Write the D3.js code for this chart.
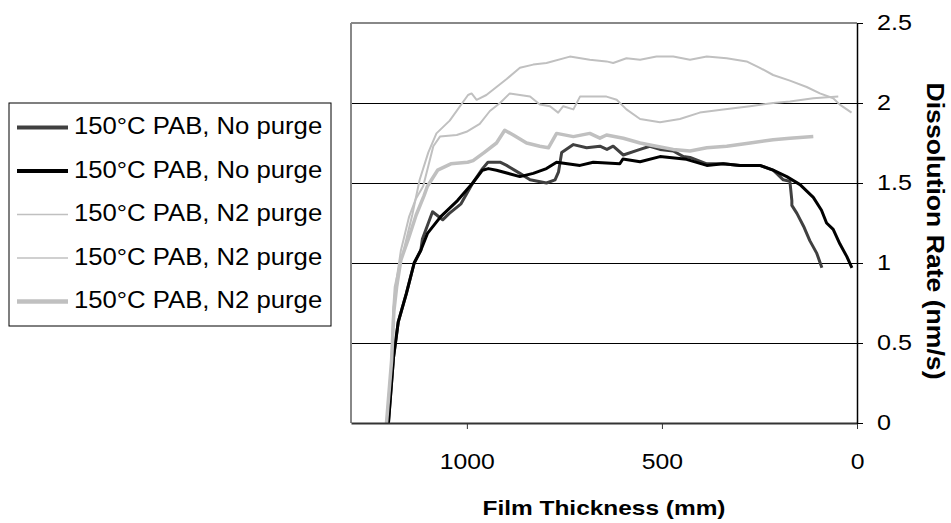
<!DOCTYPE html>
<html><head><meta charset="utf-8">
<script src="https://cdn.jsdelivr.net/npm/d3@7"></script>
<style>body{margin:0;background:#fff}svg{display:block}</style>
</head><body>
<svg id="chart" width="951" height="523"></svg>
<script>
// ---- data ----
const seriesNames = ["150°C PAB, No purge","150°C PAB, No purge","150°C PAB, N2 purge","150°C PAB, N2 purge","150°C PAB, N2 purge"];
// [film thickness, dissolution rate]
const noPurgeA = [[1201,0],[1188,0.41],[1176,0.63],[1155,0.81],[1135,1.0],[1118,1.08],[1114,1.15],[1088,1.32],[1062,1.27],[1045,1.31],[1015,1.37],[985,1.50],[960,1.59],[946,1.63],[915,1.63],[898,1.61],[864,1.56],[838,1.52],[796,1.50],[774,1.52],[765,1.57],[757,1.69],[727,1.74],[693,1.72],[659,1.73],[641,1.71],[625,1.73],[599,1.675],[556,1.71],[531,1.73],[505,1.71],[471,1.70],[445,1.665],[428,1.66],[385,1.62],[343,1.62],[300,1.61],[249,1.61],[215,1.58],[206,1.56],[189,1.52],[172,1.51],[167,1.39],[167,1.36],[154,1.31],[137,1.23],[121,1.14],[103,1.06],[90,0.97]];
const noPurgeB = [[1201,0],[1188,0.41],[1176,0.63],[1155,0.81],[1135,1.0],[1118,1.08],[1101,1.185],[1067,1.29],[1024,1.39],[985,1.50],[960,1.58],[945,1.59],[924,1.58],[864,1.54],[830,1.56],[796,1.59],[770,1.63],[710,1.61],[676,1.63],[608,1.62],[600,1.65],[556,1.633],[505,1.665],[437,1.648],[385,1.61],[343,1.62],[300,1.61],[249,1.61],[215,1.58],[180,1.54],[146,1.49],[112,1.41],[91,1.33],[78,1.25],[61,1.21],[44,1.12],[26,1.04],[13,0.97]];
const n2PurgeA = [[1206,0],[1193,0.39],[1189,0.71],[1185,0.85],[1176,0.95],[1160,1.1],[1140,1.3],[1121,1.52],[1099,1.69],[1078,1.81],[1044,1.89],[997,2.05],[988,2.06],[975,2.02],[950,2.05],[924,2.10],[898,2.15],[864,2.22],[830,2.24],[796,2.25],[736,2.29],[685,2.27],[642,2.26],[625,2.25],[591,2.28],[556,2.27],[514,2.29],[471,2.29],[428,2.27],[385,2.29],[334,2.28],[283,2.26],[249,2.22],[215,2.175],[172,2.14],[129,2.10],[95,2.06],[61,2.03],[44,1.99],[14,1.94]];
const n2PurgeB = [[1206,0],[1193,0.39],[1188,0.7],[1183,0.85],[1169,1.08],[1161,1.16],[1148,1.29],[1131,1.40],[1112,1.48],[1086,1.73],[1069,1.79],[1026,1.80],[1001,1.82],[967,1.87],[941,1.95],[915,2.00],[890,2.06],[864,2.05],[838,2.04],[813,1.99],[787,1.98],[766,1.94],[753,1.98],[727,1.96],[710,2.04],[676,2.04],[642,2.04],[616,2.02],[591,1.96],[556,1.90],[505,1.88],[454,1.90],[403,1.94],[343,1.96],[274,1.98],[215,2.00],[172,2.01],[112,2.03],[48,2.04]];
const n2PurgeC = [[1206,0],[1193,0.39],[1187,0.7],[1180,0.85],[1169,1.02],[1150,1.15],[1130,1.3],[1110,1.42],[1101,1.48],[1075,1.58],[1041,1.62],[998,1.63],[984,1.64],[956,1.69],[924,1.75],[903,1.83],[881,1.80],[847,1.75],[813,1.73],[791,1.72],[770,1.81],[727,1.79],[685,1.81],[659,1.78],[642,1.80],[599,1.78],[556,1.75],[514,1.73],[471,1.71],[428,1.70],[385,1.72],[334,1.73],[274,1.75],[215,1.77],[172,1.78],[112,1.79]];
const seriesData = [noPurgeA, noPurgeB, n2PurgeA, n2PurgeB, n2PurgeC];
const xTicks = [1000, 500, 0];
const xTickLabels = ["1000", "500", "0"];
const yTicks = [0, 0.5, 1, 1.5, 2, 2.5];
const yTickLabels = ["0", "0.5", "1", "1.5", "2", "2.5"];
const xTitle = "Film Thickness (mm)";
const yTitle = "Dissolution Rate (nm/s)";

// ---- styles / layout ----
const seriesStyles = [
  {color:"#404040", width:3},
  {color:"#000000", width:3},
  {color:"#c0c0c0", width:2},
  {color:"#c0c0c0", width:2},
  {color:"#c0c0c0", width:3.5}
];
const FONT = "'Liberation Sans', Arial, Helvetica, sans-serif";
const plot = {left:351, top:23, right:857, bottom:423};

const svg = d3.select("#chart");
const x = d3.scaleLinear().domain([1297, 0]).range([plot.left, plot.right]);
const y = d3.scaleLinear().domain([0, 2.5]).range([plot.bottom, plot.top]);

function stretch(sel, k) {
  sel.each(function() {
    const w = this.getComputedTextLength();
    this.setAttribute("textLength", w * k);
    this.setAttribute("lengthAdjust", "spacingAndGlyphs");
  });
}

// gridlines
svg.append("g").selectAll("line").data(yTicks.filter(d => d > 0 && d < 2.5)).join("line")
  .attr("x1", plot.left).attr("x2", plot.right)
  .attr("y1", d => y(d)).attr("y2", d => y(d))
  .attr("stroke", "#000").attr("stroke-width", 1).attr("shape-rendering", "crispEdges");

// plot border (top & left gray)
svg.append("line").attr("x1", plot.left).attr("x2", plot.right).attr("y1", plot.top).attr("y2", plot.top)
  .attr("stroke", "#888").attr("stroke-width", 2);
svg.append("line").attr("x1", plot.left).attr("x2", plot.left).attr("y1", plot.top).attr("y2", plot.bottom)
  .attr("stroke", "#888").attr("stroke-width", 2);

// series
const line = d3.line().x(d => x(d[0])).y(d => y(d[1]));
svg.append("g").selectAll("path").data(seriesData).join("path")
  .attr("d", line)
  .attr("fill", "none")
  .attr("stroke", (d, i) => seriesStyles[i].color)
  .attr("stroke-width", (d, i) => seriesStyles[i].width)
  .attr("stroke-linejoin", "round");

// x axis
const xAxis = svg.append("g").attr("transform", `translate(0,${plot.bottom})`)
  .call(d3.axisBottom(x).tickValues(xTicks).tickFormat((d, i) => xTickLabels[i]).tickSizeInner(6).tickSizeOuter(0));
xAxis.select(".domain").attr("stroke", "#333").attr("stroke-width", 2);
xAxis.selectAll(".tick line").attr("stroke", "#333");
xAxis.selectAll("text").attr("font-family", FONT).attr("font-size", 21.5).attr("fill", "#000")
  .attr("y", 38.5).attr("dy", "0.35em");
stretch(xAxis.selectAll("text"), 1.15);

// y axis (right)
const yAxis = svg.append("g").attr("transform", `translate(${plot.right},0)`)
  .call(d3.axisRight(y).tickValues(yTicks).tickFormat((d, i) => yTickLabels[i]).tickSizeInner(6).tickSizeOuter(0).tickPadding(14));
yAxis.select(".domain").attr("stroke", "#000").attr("stroke-width", 1.5);
yAxis.selectAll(".tick line").attr("stroke", "#000");
yAxis.selectAll("text").attr("font-family", FONT).attr("font-size", 21.5).attr("fill", "#000");
stretch(yAxis.selectAll("text"), 1.17);

// axis titles
const xt = svg.append("text").attr("x", (plot.left + plot.right) / 2).attr("y", 515)
  .attr("text-anchor", "middle").attr("font-family", FONT).attr("font-weight", "bold")
  .attr("font-size", 21).text(xTitle);
xt.attr("textLength", 243).attr("lengthAdjust", "spacingAndGlyphs");

const yt = svg.append("text").attr("transform", "translate(927,231) rotate(90)")
  .attr("text-anchor", "middle").attr("font-family", FONT).attr("font-weight", "bold")
  .attr("font-size", 24.5).text(yTitle);
yt.attr("textLength", 297).attr("lengthAdjust", "spacingAndGlyphs");

// legend
const legend = svg.append("g");
legend.append("rect").attr("x", 9).attr("y", 103).attr("width", 322).attr("height", 223)
  .attr("fill", "#fff").attr("stroke", "#000").attr("stroke-width", 1);
const rows = legend.selectAll("g.row").data(seriesNames).join("g").attr("class", "row")
  .attr("transform", (d, i) => `translate(0,${125.5 + i * 43.5})`);
rows.append("line").attr("x1", 17).attr("x2", 68).attr("y1", 2).attr("y2", 2)
  .attr("stroke", (d, i) => seriesStyles[i].color)
  .attr("stroke-width", (d, i) => seriesStyles[i].width + (seriesStyles[i].width > 2 ? 1 : -0.5));
const lt = rows.append("text").attr("x", 74).attr("y", 8.6)
  .attr("font-family", FONT).attr("font-size", 24).attr("fill", "#000").text(d => d);
stretch(lt, 1.07);
</script>
</body></html>
